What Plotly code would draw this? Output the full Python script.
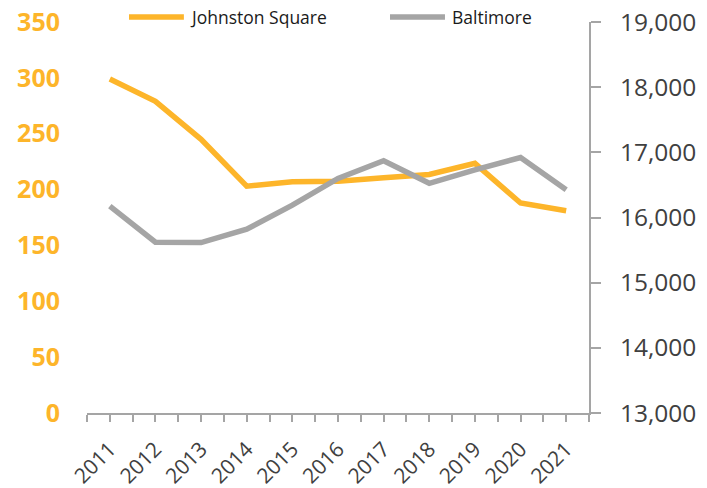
import plotly.graph_objects as go

years = [2011, 2012, 2013, 2014, 2015, 2016, 2017, 2018, 2019, 2020, 2021]
johnston_square = [299, 279, 245, 203, 207, 207.5, 210.5, 213.5, 223.5, 188, 181]
baltimore = [16175, 15620, 15615, 15820, 16190, 16600, 16870, 16525, 16730, 16920, 16425]

ORANGE = "#FDB52A"
GREY = "#A5A5A5"
FONT = "Open Sans"

fig = go.Figure()

fig.add_trace(go.Scatter(
    x=years, y=johnston_square, name="Johnston Square", mode="lines",
    line=dict(color=ORANGE, width=5.5),
))

fig.add_trace(go.Scatter(
    x=years, y=baltimore, name="Baltimore", mode="lines", yaxis="y2",
    line=dict(color=GREY, width=5.5),
))

# legend drawn by hand so the line swatches are as long as in the original
legend_items = [
    ("Johnston Square", ORANGE, 0.0837, 0.193, 0.201),
    ("Baltimore", GREY, 0.6036, 0.7131, 0.7231),
]
for label, color, x0, x1, xt in legend_items:
    fig.add_shape(type="line", xref="paper", yref="paper",
                  x0=x0, x1=x1, y0=1.0128, y1=1.0128,
                  line=dict(color=color, width=5.5))
    fig.add_annotation(text=label, xref="paper", yref="paper",
                       x=xt, y=1.0128, xanchor="left", yanchor="middle",
                       showarrow=False, font=dict(size=17.5, color="#1a1a1a"))

fig.update_layout(
    width=707,
    height=488,
    margin=dict(l=87, r=118, t=22, b=75, autoexpand=False),
    plot_bgcolor="white",
    paper_bgcolor="white",
    font=dict(family=FONT, color="#404040"),
    showlegend=False,
    xaxis=dict(
        range=[2010.5, 2021.5],
        tickmode="array",
        tickvals=years,
        ticktext=[str(y) for y in years],
        tickangle=-45,
        tickfont=dict(size=21, color="#404040"),
        showline=True, linecolor=GREY, linewidth=1.5,
        ticks="outside", ticklen=7, tickcolor=GREY, tickwidth=1.5,
        minor=dict(tickmode="array", tickvals=[y - 0.5 for y in years] + [2021.5],
                   ticks="outside", ticklen=7, tickcolor=GREY, tickwidth=1.5),
        showgrid=False, zeroline=False, automargin=False,
        ticklabelstandoff=7,
    ),
    yaxis=dict(
        range=[0, 350],
        dtick=50,
        tickfont=dict(size=25, color=ORANGE, family=FONT, weight="bold"),
        showline=False, showgrid=False, zeroline=False,
        ticks="", ticklabelstandoff=26, automargin=False,
        ticklabeloverflow="allow",
    ),
    yaxis2=dict(
        range=[13000, 19000],
        dtick=1000,
        tickformat=",",
        overlaying="y",
        side="right",
        tickfont=dict(size=24.5, color="#404040"),
        showline=True, linecolor=GREY, linewidth=2,
        ticks="outside", ticklen=10, tickcolor=GREY, tickwidth=1.5,
        showgrid=False, zeroline=False,
        ticklabelstandoff=14, automargin=False,
        ticklabeloverflow="allow",
    ),
)

# drop the browser's default 8px body margin so the figure sits at the window corner
fig.write_html("out.html", config={"displayModeBar": False},
               post_script="document.body.style.margin = '0';")
